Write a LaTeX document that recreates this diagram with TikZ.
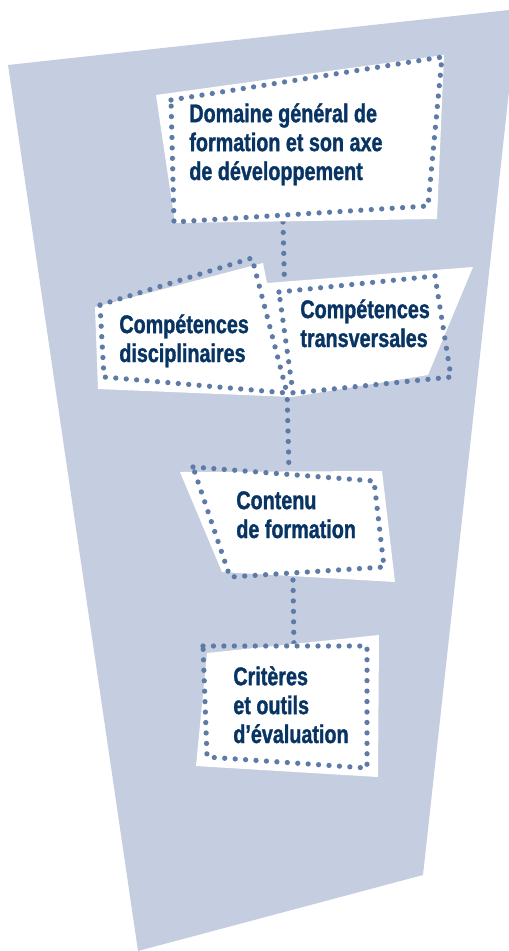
\documentclass[tikz,border=0pt]{standalone}
\usepackage{fontspec}
\setmainfont{Liberation Sans}[FakeStretch=0.77, BoldFeatures={FakeBold=1.2}]
\definecolor{bgblue}{RGB}{197,206,224}
\definecolor{dotblue}{RGB}{94,122,166}
\definecolor{navy}{RGB}{8,52,100}
\tikzset{ t/.style = { anchor       = base west
                     , align        = left
                     , inner sep    = 0pt
                     , text         = navy
                     , font         = \fontsize{14.6}{16.45}\selectfont\bfseries
                     },
          d/.style = { draw         = dotblue
                     , line width   = 3pt
                     , line cap     = round
                     , dash pattern = on 0pt off 5.95pt
                     },
          w/.style = { fill = white
                     , draw = none
                     }
        }
\begin{document}
\begin{tikzpicture}[x=0.02cm, y=-0.02cm]
            \useasboundingbox (0,0) rectangle (508,951);
            \fill[bgblue] (8,65) -- (518,9) -- (423,875) -- (138,951) -- cycle;
            % links
            \coordinate (dom-s)  at (283,222);
            \coordinate (cont-n) at (289,472);
            \coordinate (cont-s) at (293,580);
            \coordinate (crit-n) at (294,648);
            \draw[d] (dom-s) -- (cont-n);
            \draw[d] (cont-s) -- (crit-n);
            % domaine
            \fill[w] (156,95) -- (444,55) -- (437,219) -- (175,223) -- cycle;
            \draw[d] (171,100) -- (442,57) -- (428,206) -- (174,222) -- cycle;
            \node[t] (dom) at (189,180) {Domaine général de\\formation et son axe\\de développement};
            % competences
            \fill[w] (95,307) -- (263,263) -- (267,283) -- (473,267) -- (428,375)
                     -- (292,397) -- (98,389) -- cycle;
            \draw[d] (100,305) -- (252,258) -- (287,393) -- (104,377) -- cycle;
            \draw[d] (279,292) -- (435,276) -- (451,377) -- (293,393) -- cycle;
            \node[t] (disc)  at (119,362) {Compétences\\disciplinaires};
            \node[t] (trans) at (300,347) {Compétences\\transversales};
            % contenu
            \fill[w] (180,472) -- (382,471) -- (395,582) -- (222,572) -- cycle;
            \draw[d] (193,467) -- (374,481) -- (384,567) -- (230,577) -- cycle;
            \node[t] (cont) at (236,538) {Contenu\\de formation};
            % criteres
            \fill[w] (207,653) -- (379,635) -- (378,777) -- (196,766) -- cycle;
            \draw[d] (203,646) -- (367,646) -- (367,768) -- (207,757) -- cycle;
            \node[t] (crit) at (233,743) {Critères\\et outils\\d’évaluation};
\end{tikzpicture}
\end{document}
